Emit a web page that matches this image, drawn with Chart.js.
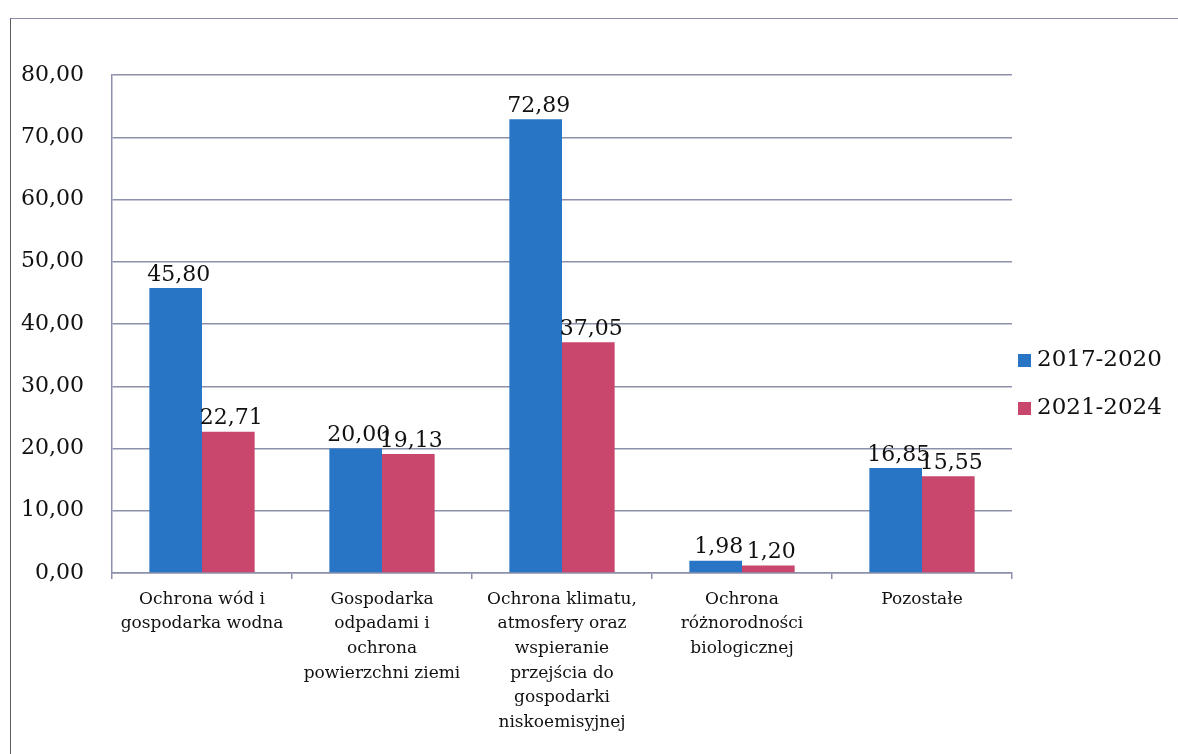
<!DOCTYPE html>
<html>
<head>
<meta charset="utf-8">
<script src="https://cdn.jsdelivr.net/npm/chart.js@4.4.1/dist/chart.umd.min.js"></script>
<style>
  html, body { margin: 0; padding: 0; background: #fff; }
  #wrap { position: relative; width: 1178px; height: 754px; overflow: hidden; }
  #frame { position: absolute; left: 10px; top: 18px; width: 1200px; height: 800px;
           border-left: 1.5px solid #5a5a62; border-top: 1.5px solid #8a8ea8; }
  canvas { position: absolute; left: 0; top: 0; }
</style>
</head>
<body>
<div id="wrap">
  <div id="frame"></div>
  <canvas id="myChart" width="1178" height="754"></canvas>
</div>
<script>
// categories (wrapped as on the original)
const categories = [
  ['Ochrona wód i', 'gospodarka wodna'],
  ['Gospodarka', 'odpadami i', 'ochrona', 'powierzchni ziemi'],
  ['Ochrona klimatu,', 'atmosfery oraz', 'wspieranie', 'przejścia do', 'gospodarki', 'niskoemisyjnej'],
  ['Ochrona', 'różnorodności', 'biologicznej'],
  ['Pozostałe']
];
const seriesNames = ['2017-2020', '2021-2024'];
const values2017 = [45.80, 20.00, 72.89, 1.98, 16.85];
const values2021 = [22.71, 19.13, 37.05, 1.20, 15.55];
const yMin = 0, yMax = 80, yStep = 10;

const blue = '#2775c4';
const red = '#c9476c';
const gridColor = '#8c90ab';
const textColor = '#111';
const serif = "'DejaVu Serif', 'Liberation Serif', serif";

const fmt = v => v.toFixed(2).replace('.', ',');

// value labels above each bar
const barLabels = {
  id: 'barLabels',
  afterDatasetsDraw(chart) {
    const ctx = chart.ctx;
    ctx.save();
    ctx.font = '22px ' + serif;
    ctx.fillStyle = textColor;
    ctx.textAlign = 'center';
    ctx.textBaseline = 'bottom';
    chart.data.datasets.forEach((ds, i) => {
      chart.getDatasetMeta(i).data.forEach((bar, j) => {
        ctx.fillText(fmt(ds.data[j]), bar.x + 3, bar.y - 2);
      });
    });
    ctx.restore();
  }
};

// legend on the right, drawn by hand so the plot keeps its width
const sideLegend = {
  id: 'sideLegend',
  afterDraw(chart) {
    const ctx = chart.ctx;
    ctx.save();
    ctx.font = '23px ' + serif;
    ctx.textBaseline = 'middle';
    chart.data.datasets.forEach((ds, i) => {
      const y = 360 + i * 48;
      ctx.fillStyle = ds.backgroundColor;
      ctx.fillRect(1018, y - 6, 13, 13);
      ctx.fillStyle = textColor;
      ctx.fillText(ds.label, 1037, y);
    });
    ctx.restore();
  }
};

const ctx = document.getElementById('myChart').getContext('2d');
const myChart = new Chart(ctx, {
  type: 'bar',
  data: {
    labels: categories,
    datasets: [
      { label: seriesNames[0], data: values2017, backgroundColor: blue },
      { label: seriesNames[1], data: values2021, backgroundColor: red }
    ]
  },
  options: {
    responsive: false,
    animation: false,
    devicePixelRatio: 1,
    layout: { padding: { top: 75, right: 166, left: 0, bottom: 0 } },
    datasets: { bar: { categoryPercentage: 0.585, barPercentage: 1.0 } },
    plugins: { legend: { display: false }, tooltip: { enabled: false } },
    scales: {
      x: {
        grid: { display: true, offset: true, drawOnChartArea: false, drawTicks: true, tickLength: 6, color: gridColor, lineWidth: 1.5 },
        border: { color: gridColor, width: 1.5 },
        ticks: { color: textColor, font: { family: serif, size: 17, lineHeight: 1.45 }, padding: 8, maxRotation: 0, autoSkip: false },
        afterFit(scale) { scale.height = 754 - 573; }
      },
      y: {
        min: yMin, max: yMax,
        grid: { color: gridColor, lineWidth: 1.5, drawTicks: false },
        border: { color: gridColor, width: 1.5 },
        ticks: { stepSize: yStep, color: textColor, font: { family: serif, size: 22 }, padding: 28, callback: v => fmt(v) },
        afterFit(scale) { scale.width = 112; }
      }
    }
  },
  plugins: [barLabels, sideLegend]
});
</script>
</body>
</html>
